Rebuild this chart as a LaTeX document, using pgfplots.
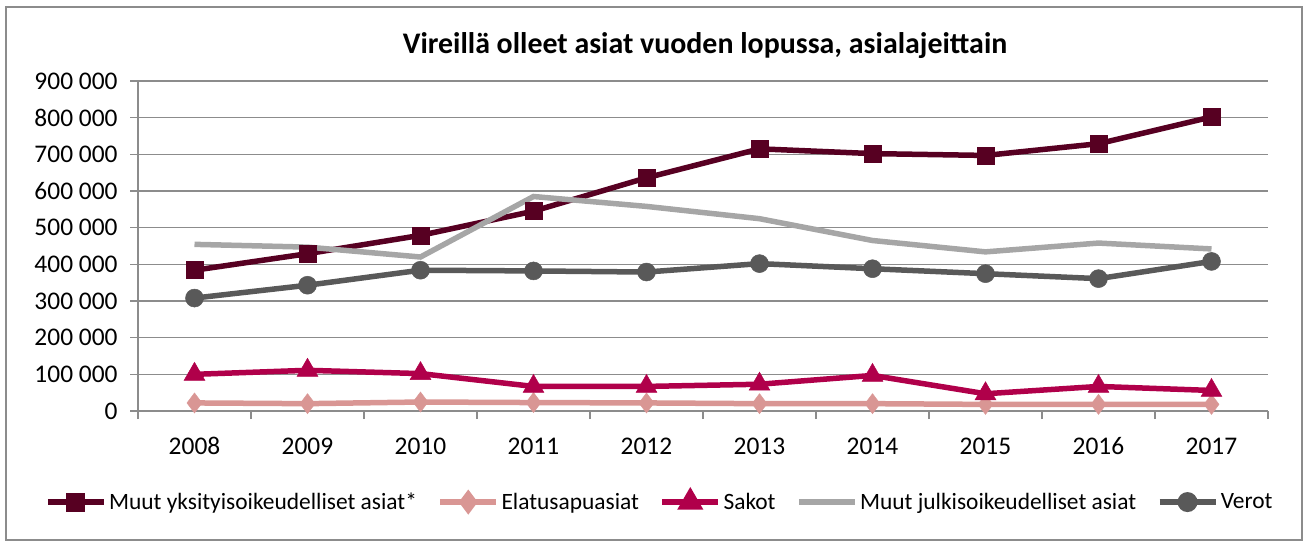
\documentclass[border=0pt]{standalone}
\usepackage{fontspec}
\setmainfont{Carlito}
\usepackage{pgfplots}
\pgfplotsset{compat=1.18}

\definecolor{yksit}{HTML}{570022}
\definecolor{elatus}{HTML}{D99694}
\definecolor{sakot}{HTML}{B0004A}
\definecolor{julk}{HTML}{A6A6A6}
\definecolor{verot}{HTML}{595959}
\definecolor{gridc}{HTML}{8C8C8C}

\begin{document}
\begin{tikzpicture}
\useasboundingbox (0,0) rectangle (1309bp,547bp);
\draw[gridc, line width=1.2bp] (6bp,7bp) rectangle (1302bp,540bp);
\begin{axis}[
    at={(138bp,136bp)}, anchor=south west,
    scale only axis,
    width=1130bp, height=330bp,
    xmin=2007.5, xmax=2017.5,
    ymin=0, ymax=900000,
    xtick={2008,...,2017},
    xticklabels={2008,2009,2010,2011,2012,2013,2014,2015,2016,2017},
    minor xtick={2007.5,2008.5,...,2017.5},
    ytick={0,100000,...,900000},
    yticklabels={0,100 000,200 000,300 000,400 000,500 000,600 000,700 000,800 000,900 000},
    scaled ticks=false,
    axis x line*=bottom, axis y line*=left,
    axis line style={gridc, line width=1.5bp, -},
    ymajorgrids=true,
    grid style={gridc, line width=1.5bp},
    tick align=outside,
    major tick length=8bp, minor tick length=8bp,
    tick style={gridc, line width=1.5bp},
    every major x tick/.append style={draw=none},
    ticklabel style={font=\fontsize{25.5}{30}\selectfont},
    xticklabel style={yshift=-15bp},
    yticklabel style={xshift=-9bp},
    title={Vireillä olleet asiat vuoden lopussa, asialajeittain},
    title style={font=\bfseries\fontsize{30}{36}\selectfont, at={(0.5,1)}, anchor=center, yshift=29bp, xshift=2bp},
    legend columns=5,
    legend style={draw=none, fill=none, at={(0.462,-0.276)}, anchor=center,
        font=\fontsize{23.5}{28}\selectfont,
        nodes={inner sep=2.5bp},
        /tikz/every even column/.append style={column sep=18bp}},
    legend image code/.code={\draw[mark repeat=2,mark phase=2,mark options={scale=0.8}] plot coordinates {(0bp,0bp) (28bp,0bp) (56bp,0bp)};},
    every axis plot/.append style={line width=5.5bp},
    mark options={solid, line width=0.5bp},
]
\addplot[yksit, mark=square*, mark size=8.5bp] coordinates {
    (2008,384000) (2009,429000) (2010,479000) (2011,545000) (2012,636000)
    (2013,715000) (2014,702000) (2015,697000) (2016,729000) (2017,802000)};
\addlegendentry{Muut yksityisoikeudelliset asiat*}
\addplot[elatus, mark=diamond*, mark size=10bp] coordinates {
    (2008,22000) (2009,20000) (2010,24500) (2011,23000) (2012,22000)
    (2013,20000) (2014,20000) (2015,18000) (2016,18000) (2017,18000)};
\addlegendentry{Elatusapuasiat}
\addplot[sakot, mark=triangle*, mark size=12bp] coordinates {
    (2008,100000) (2009,111000) (2010,102000) (2011,67000) (2012,67000)
    (2013,73000) (2014,97000) (2015,47000) (2016,67000) (2017,56000)};
\addlegendentry{Sakot}
\addplot[julk, no marks] coordinates {
    (2008,454500) (2009,447000) (2010,420000) (2011,585000) (2012,558000)
    (2013,524500) (2014,465000) (2015,434000) (2016,458000) (2017,442000)};
\addlegendentry{Muut julkisoikeudelliset asiat}
\addplot[verot, mark=*, mark size=9bp] coordinates {
    (2008,308000) (2009,343000) (2010,384000) (2011,382000) (2012,379000)
    (2013,402000) (2014,388000) (2015,374500) (2016,361000) (2017,408000)};
\addlegendentry{Verot}
\end{axis}
\end{tikzpicture}
\end{document}
